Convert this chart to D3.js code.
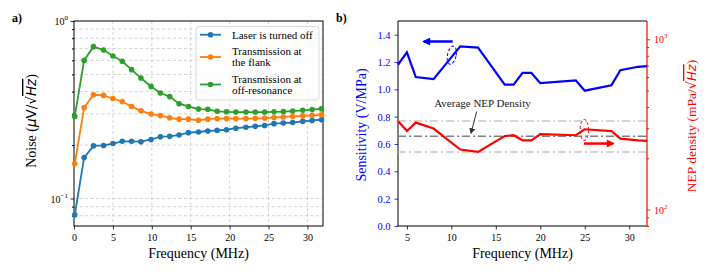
<!DOCTYPE html>
<html>
<head>
<meta charset="utf-8">
<script src="https://cdn.jsdelivr.net/npm/d3@7"></script>
<style>
  body { margin: 0; background: white; }
  svg text { font-family: "Liberation Serif", "Times New Roman", "DejaVu Serif", serif !important; }
</style>
</head>
<body>
<div id="chart"></div>
<script>
// panel a: noise spectra
var freqA = [0.1, 1.3, 2.5, 3.8, 5.0, 6.2, 7.4, 8.6, 9.9, 11.1, 12.3, 13.5, 14.7, 16.0,
             17.2, 18.4, 19.6, 20.8, 22.1, 23.3, 24.5, 25.7, 26.9, 28.1, 29.4, 30.6, 31.8];
var laserOff = [0.081, 0.170, 0.198, 0.199, 0.204, 0.210, 0.210, 0.209, 0.215, 0.223, 0.224,
                0.228, 0.235, 0.237, 0.240, 0.242, 0.244, 0.249, 0.252, 0.255, 0.258, 0.264,
                0.266, 0.268, 0.272, 0.275, 0.278];
var flank = [0.157, 0.325, 0.384, 0.381, 0.366, 0.352, 0.330, 0.312, 0.299, 0.293, 0.285,
             0.280, 0.280, 0.276, 0.280, 0.282, 0.282, 0.282, 0.282, 0.283, 0.284, 0.286,
             0.288, 0.290, 0.292, 0.294, 0.296];
var offRes = [0.290, 0.600, 0.717, 0.686, 0.635, 0.593, 0.532, 0.477, 0.428, 0.393, 0.375,
              0.342, 0.330, 0.319, 0.318, 0.310, 0.308, 0.307, 0.307, 0.307, 0.307, 0.308,
              0.309, 0.311, 0.314, 0.317, 0.320];
var seriesNames = ["Laser is turned off", "Transmission at|the flank", "Transmission at|off-resonance"];
var seriesColors = ["#1f77b4", "#ff7f0e", "#2ca02c"];
var xTicksA = [0, 5, 10, 15, 20, 25, 30];

// panel b: sensitivity and NEP density
var freqB = [4, 5, 6, 8, 11, 13, 16, 17, 18, 19, 20, 24, 25, 28, 29, 31, 32];
var sensitivity = [1.18, 1.27, 1.09, 1.075, 1.315, 1.305, 1.035, 1.035, 1.12, 1.12, 1.045,
                   1.065, 0.99, 1.03, 1.14, 1.165, 1.17];
var nepDensity = [331, 289, 324, 299, 225, 218, 270, 273, 255, 255, 277, 273, 296, 289, 261, 255, 253];
var nepLevels = [218, 269, 331];   // lower, average, upper
var xTicksB = [5, 10, 15, 20, 25, 30];
var sensTicks = [0, 0.2, 0.4, 0.6, 0.8, 1.0, 1.2, 1.4];

var serif = "'Liberation Serif', 'Times New Roman', serif";
var width = 709, height = 276;
var svg = d3.select("#chart").append("svg")
    .attr("width", width)
    .attr("height", height);

var defs = svg.append("defs");
function marker(id, color, w, h) {
  defs.append("marker")
      .attr("id", id)
      .attr("viewBox", "0 0 10 10")
      .attr("refX", 8).attr("refY", 5)
      .attr("markerUnits", "userSpaceOnUse")
      .attr("markerWidth", w).attr("markerHeight", h)
      .attr("orient", "auto")
    .append("path")
      .attr("d", "M0,0 L10,5 L0,10 z")
      .attr("fill", color);
}
marker("arrBlue", "#0000ff", 9, 8);
marker("arrRed", "#ff0000", 9, 8);
marker("arrGrey", "#333", 6, 6);

function sup(sel, base, exp, size) {
  sel.append("tspan").text(base);
  sel.append("tspan").attr("dy", -5).attr("font-size", size * 0.7).text(exp);
}

// ---------- panel a ----------
var a = { left: 74, right: 323, top: 21, bottom: 226 };
var xA = d3.scaleLinear().domain([0, 32]).range([a.left, a.right]);
var yA = d3.scaleLog().domain([0.07, 1.0]).range([a.bottom, a.top]);
var minorA = [0.08, 0.09, 0.2, 0.3, 0.4, 0.5, 0.6, 0.7, 0.8, 0.9];

var gA = svg.append("g");
// grid
gA.selectAll(".vgrid").data(xTicksA.slice(1)).enter().append("line")
    .attr("x1", xA).attr("x2", xA).attr("y1", a.top).attr("y2", a.bottom)
    .attr("stroke", "#c8c8c8").attr("stroke-width", 0.8).attr("stroke-dasharray", "3,2.5");
gA.selectAll(".hgrid").data(minorA.concat([0.1])).enter().append("line")
    .attr("x1", a.left).attr("x2", a.right).attr("y1", yA).attr("y2", yA)
    .attr("stroke", "#c8c8c8").attr("stroke-width", 0.8).attr("stroke-dasharray", "3,2.5");

var axA = gA.append("g").attr("transform", "translate(0," + a.bottom + ")")
    .call(d3.axisBottom(xA).tickValues(xTicksA).tickSize(3.5).tickPadding(4));
var ayA = gA.append("g").attr("transform", "translate(" + a.left + ",0)")
    .call(d3.axisLeft(yA).tickValues([0.1, 1]).tickSize(3.5).tickFormat(""));
gA.append("g").attr("transform", "translate(" + a.left + ",0)")
    .call(d3.axisLeft(yA).tickValues(minorA).tickSize(2).tickFormat(""))
    .select(".domain").remove();
[axA, ayA].forEach(function(s) {
  s.attr("font-family", serif);
  s.selectAll("text").attr("font-size", 10).attr("fill", "#000");
  s.selectAll("line").attr("stroke", "#000").attr("stroke-width", 0.8);
  s.select(".domain").remove();
});
gA.append("rect").attr("x", a.left).attr("y", a.top)
    .attr("width", a.right - a.left).attr("height", a.bottom - a.top)
    .attr("fill", "none").attr("stroke", "#000").attr("stroke-width", 1);

[0.1, 1].forEach(function(v, i) {
  var t = gA.append("text").attr("x", a.left - 6).attr("y", yA(v) + 4)
      .attr("text-anchor", "end").attr("font-size", 10);
  sup(t, "10", i === 0 ? "\u22121" : "0", 10);
});

var lineA = d3.line().x(function(d) { return xA(d[0]); }).y(function(d) { return yA(d[1]); });
[laserOff, flank, offRes].forEach(function(vals, i) {
  var pts = freqA.map(function(f, k) { return [f, vals[k]]; });
  gA.append("path").datum(pts).attr("d", lineA)
      .attr("fill", "none").attr("stroke", seriesColors[i]).attr("stroke-width", 1.8);
  gA.selectAll(".dot" + i).data(pts).enter().append("circle")
      .attr("cx", function(d) { return xA(d[0]); })
      .attr("cy", function(d) { return yA(d[1]); })
      .attr("r", 2.8).attr("fill", seriesColors[i]);
});

// legend
var leg = gA.append("g");
leg.append("rect").attr("x", 196).attr("y", 26.5).attr("width", 123).attr("height", 73.5)
    .attr("rx", 3).attr("fill", "white").attr("fill-opacity", 0.85)
    .attr("stroke", "#d0d0d0").attr("stroke-width", 0.8);
var legY = [34.7, 57, 84.5];
seriesNames.forEach(function(name, i) {
  var y = legY[i];
  leg.append("line").attr("x1", 200).attr("x2", 221).attr("y1", y).attr("y2", y)
      .attr("stroke", seriesColors[i]).attr("stroke-width", 1.8);
  leg.append("circle").attr("cx", 210.5).attr("cy", y).attr("r", 2.8).attr("fill", seriesColors[i]);
  var lines = name.split("|");
  lines.forEach(function(s, k) {
    leg.append("text").attr("x", 232)
        .attr("y", y + 3.8 + (k - (lines.length - 1) / 2) * 10.8)
        .attr("font-size", 11).text(s);
  });
});

gA.append("text").attr("x", (a.left + a.right) / 2).attr("y", 258)
    .attr("text-anchor", "middle").attr("font-size", 14).text("Frequency (MHz)");
var labA = gA.append("text").attr("transform", "translate(36,121) rotate(-90)")
    .attr("text-anchor", "middle").attr("font-size", 14);
labA.append("tspan").text("Noise (");
labA.append("tspan").style("font-family", "DejaVu Sans").style("font-style", "italic")
    .attr("font-size", 13.5).text("\u03bc");
labA.append("tspan").style("font-family", "DejaVu Sans").attr("font-size", 13.5).text("V/\u221a");
labA.append("tspan").style("font-family", "DejaVu Sans").style("font-style", "italic")
    .style("text-decoration", "overline").attr("font-size", 13.5).text("Hz");
labA.append("tspan").text(")");

svg.append("text").attr("x", 12).attr("y", 22).attr("font-size", 12)
    .attr("font-weight", "bold").text("a)");
svg.append("text").attr("x", 336).attr("y", 22).attr("font-size", 12)
    .attr("font-weight", "bold").text("b)");

// ---------- panel b ----------
var b = { left: 398, right: 647, top: 21, bottom: 226 };
var xB = d3.scaleLinear().domain([4, 32]).range([b.left, b.right]);
var yS = d3.scaleLinear().domain([0, 1.5]).range([b.bottom, b.top]);
var yN = d3.scaleLog().domain([80, 1280]).range([b.bottom, b.top]);
var minorN = [80, 90, 200, 300, 400, 500, 600, 700, 800, 900];

var gB = svg.append("g");
var axB = gB.append("g").attr("transform", "translate(0," + b.bottom + ")")
    .call(d3.axisBottom(xB).tickValues(xTicksB).tickSize(3.5).tickPadding(4));
axB.attr("font-family", serif);
axB.selectAll("text").attr("font-size", 10).attr("fill", "#000");
axB.selectAll("line").attr("stroke", "#000").attr("stroke-width", 0.8);
axB.select(".domain").remove();

var ayS = gB.append("g").attr("transform", "translate(" + b.left + ",0)")
    .call(d3.axisLeft(yS).tickValues(sensTicks).tickFormat(d3.format(".1f")).tickSize(3.5).tickPadding(4));
ayS.attr("font-family", serif);
ayS.selectAll("text").attr("font-size", 10.5).attr("fill", "#0000ff");
ayS.selectAll("line").attr("stroke", "#0000ff").attr("stroke-width", 0.8);
ayS.select(".domain").remove();

var ayN = gB.append("g").attr("transform", "translate(" + b.right + ",0)")
    .call(d3.axisRight(yN).tickValues([100, 1000]).tickSize(3.5).tickFormat(""));
gB.append("g").attr("transform", "translate(" + b.right + ",0)")
    .call(d3.axisRight(yN).tickValues(minorN).tickSize(2).tickFormat(""))
    .call(function(s) { s.select(".domain").remove(); s.selectAll("line").attr("stroke", "#ff0000"); });
ayN.selectAll("line").attr("stroke", "#ff0000").attr("stroke-width", 0.8);
ayN.select(".domain").remove();
[100, 1000].forEach(function(v, i) {
  var t = gB.append("text").attr("x", b.right + 7).attr("y", yN(v) + 4)
      .attr("font-size", 10).attr("fill", "#ff0000");
  sup(t, "10", i === 0 ? "2" : "3", 10);
});

// frame: black left/top/bottom, red right
gB.append("path")
    .attr("d", "M" + b.right + "," + b.top + "H" + b.left + "V" + b.bottom + "H" + b.right)
    .attr("fill", "none").attr("stroke", "#000").attr("stroke-width", 1);
gB.append("line").attr("x1", b.right).attr("x2", b.right).attr("y1", b.top).attr("y2", b.bottom)
    .attr("stroke", "#ff0000").attr("stroke-width", 1.2);

// average / band lines
gB.selectAll(".lvl").data(nepLevels).enter().append("line")
    .attr("x1", b.left).attr("x2", b.right)
    .attr("y1", yN).attr("y2", yN)
    .attr("stroke", function(d, i) { return i === 1 ? "#808080" : "#c8c8c8"; })
    .attr("stroke-width", 1.5).attr("stroke-dasharray", "8,3,2,3");

var lineS = d3.line().x(function(d, i) { return xB(freqB[i]); }).y(function(d) { return yS(d); });
var lineN = d3.line().x(function(d, i) { return xB(freqB[i]); }).y(function(d) { return yN(d); });
gB.append("path").datum(sensitivity).attr("d", lineS)
    .attr("fill", "none").attr("stroke", "#0000ff").attr("stroke-width", 2.2);
gB.append("path").datum(nepDensity).attr("d", lineN)
    .attr("fill", "none").attr("stroke", "#ff0000").attr("stroke-width", 2.2);

// annotations
gB.append("ellipse").attr("cx", xB(10.05)).attr("cy", yS(1.25)).attr("rx", 4.3).attr("ry", 9.2)
    .attr("transform", "rotate(12," + xB(10.05) + "," + yS(1.25) + ")")
    .attr("fill", "none").attr("stroke", "#0000ff").attr("stroke-width", 1).attr("stroke-dasharray", "3,2");
gB.append("line").attr("x1", xB(10.15)).attr("x2", xB(6.9)).attr("y1", yS(1.35)).attr("y2", yS(1.35))
    .attr("stroke", "#0000ff").attr("stroke-width", 2.5).attr("marker-end", "url(#arrBlue)");
gB.append("ellipse").attr("cx", xB(24.95)).attr("cy", yN(293)).attr("rx", 4.2).attr("ry", 10.5)
    .attr("fill", "none").attr("stroke", "#ff0000").attr("stroke-width", 1).attr("stroke-dasharray", "3,2");
gB.append("line").attr("x1", xB(24.9)).attr("x2", xB(28.2)).attr("y1", yN(244)).attr("y2", yN(244))
    .attr("stroke", "#ff0000").attr("stroke-width", 2.5).attr("marker-end", "url(#arrRed)");

gB.append("text").attr("x", xB(13.5)).attr("y", yS(0.90) + 3.5)
    .attr("text-anchor", "middle").attr("font-size", 11).attr("fill", "#222")
    .text("Average NEP Density");
gB.append("line").attr("x1", 476.7).attr("y1", 111.5).attr("x2", 471).attr("y2", 133)
    .attr("stroke", "#333").attr("stroke-width", 1).attr("marker-end", "url(#arrGrey)");

gB.append("text").attr("x", (b.left + b.right) / 2).attr("y", 258)
    .attr("text-anchor", "middle").attr("font-size", 14).text("Frequency (MHz)");
gB.append("text").attr("transform", "translate(366,125) rotate(-90)")
    .attr("text-anchor", "middle").attr("font-size", 14).attr("fill", "#0000ff")
    .text("Sensitivity (V/MPa)");
var labN = gB.append("text").attr("transform", "translate(696,126) rotate(-90)")
    .attr("text-anchor", "middle").attr("font-size", 13.5).attr("fill", "#ff0000");
labN.append("tspan").text("NEP density (mPa/");
labN.append("tspan").style("font-family", "DejaVu Sans").attr("font-size", 13).text("\u221a");
labN.append("tspan").style("font-family", "DejaVu Sans").style("font-style", "italic")
    .style("text-decoration", "overline").attr("font-size", 13).text("Hz");
labN.append("tspan").text(")");
</script>
</body>
</html>
